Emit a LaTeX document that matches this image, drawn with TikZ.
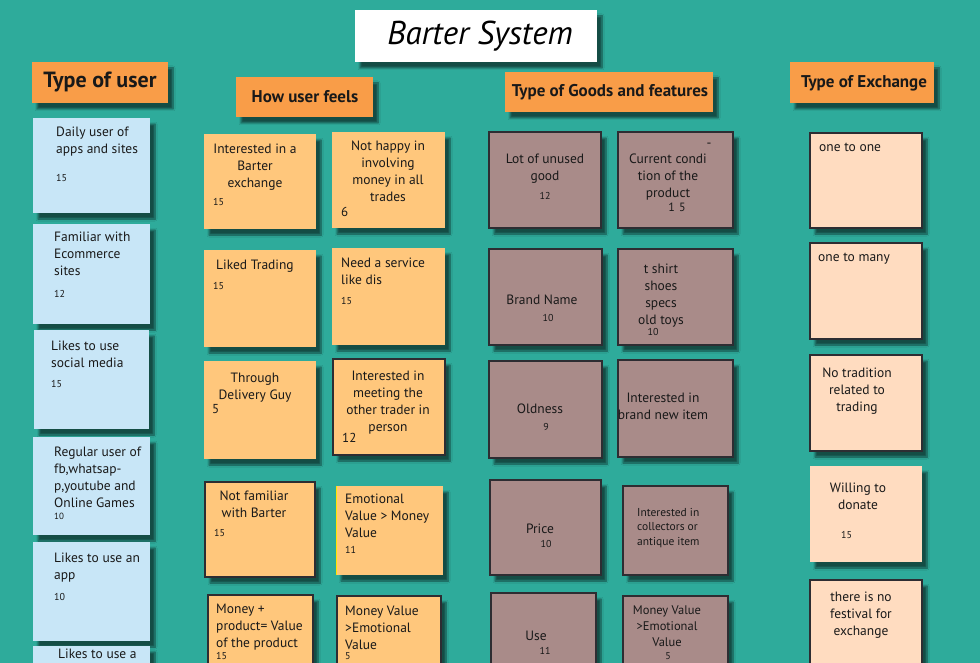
\documentclass[tikz,border=0pt]{standalone}
\usepackage{fontspec}
\setmainfont{PT Sans}
\usepackage{tikz}
\usetikzlibrary{shadows.blur}

\definecolor{board}{RGB}{46,171,155}
\definecolor{headorange}{RGB}{249,157,72}
\definecolor{userblue}{RGB}{200,230,247}
\definecolor{feelorange}{RGB}{255,199,124}
\definecolor{goodsbrown}{RGB}{169,139,137}
\definecolor{exchpeach}{RGB}{255,220,192}
\definecolor{edge}{RGB}{45,45,50}

\tikzset{
  note/.style={blur shadow={shadow xshift=5pt,shadow yshift=-6pt,shadow blur steps=8,shadow opacity=55}},
  head/.style={note,fill=headorange},
  usernote/.style={note,fill=userblue},
  feelnote/.style={note,fill=feelorange},
  goodsnote/.style={note,fill=goodsbrown,draw=edge,line width=1.2pt},
  exchnote/.style={note,fill=exchpeach},
  lined/.style={draw=edge,line width=1.2pt},
  txt/.style={inner sep=0pt,text=black!90,font=\fontsize{13.5}{16.8}\selectfont},
  ltxt/.style={txt,align=left,anchor=north west,yshift=-3pt},
  ctxt/.style={txt,align=center,anchor=north,yshift=-3pt},
  num/.style={inner sep=0pt,text=black!90,font=\fontsize{10}{12}\selectfont,anchor=west},
  bignum/.style={num,font=\fontsize{13}{15}\selectfont},
  headtxt/.style={inner sep=0pt,text=black!90,font=\bfseries\fontsize{17}{20}\selectfont}
}

\begin{document}
\begin{tikzpicture}[x=1pt,y=-1pt]
\useasboundingbox (0,0) rectangle (980,663);
\fill[board] (0,0) rectangle (980,663);

% title and column heads
\fill[note,fill=white] (355,10) rectangle (597,62);
\node[inner sep=0pt,font=\itshape\fontsize{33}{36}\selectfont] (title) at (480,36) {Barter System};
\fill[head] (32,62) rectangle (168,103);
\node[headtxt,font=\bfseries\fontsize{22}{24}\selectfont] (h1) at (100,82) {Type of user};
\fill[head] (236,77) rectangle (373,117);
\node[headtxt] (h2) at (305,97) {How user feels};
\fill[head] (505,72) rectangle (713,112);
\node[headtxt] (h3) at (610,92) {Type of Goods and features};
\fill[head] (790,62) rectangle (934,103);
\node[headtxt] (h4) at (864,83) {Type of Exchange};

% type of user
\fill[usernote] (33,118) rectangle (150,213);
\node[ltxt] (u1) at (56,124) {Daily user of\\apps and sites};
\node[num] (u1n) at (56,178) {15};
\fill[usernote] (33,224) rectangle (150,324);
\node[ltxt] (u2) at (54,229) {Familiar with\\Ecommerce\\sites};
\node[num] (u2n) at (54,294) {12};
\fill[usernote] (34,330) rectangle (149,429);
\node[ltxt] (u3) at (51,338) {Likes to use\\social media};
\node[num] (u3n) at (51,384) {15};
\fill[usernote] (33,437) rectangle (150,535);
\node[ltxt] (u4) at (54,444) {Regular user of\\fb,whatsap-\\p,youtube and\\Online Games};
\node[num,font=\fontsize{9}{11}\selectfont] (u4n) at (54,516) {10};
\fill[usernote] (33,542) rectangle (150,641);
\node[ltxt] (u5) at (54,550) {Likes to use an\\app};
\node[num] (u5n) at (54,597) {10};
\fill[usernote] (33,646) rectangle (150,700);
\node[txt,anchor=west] (u6) at (58,654) {Likes to use a};

% how user feels
\fill[feelnote] (204,134) rectangle (316,229);
\node[ctxt] (f1) at (255,141) {Interested in a\\Barter\\exchange};
\node[num] (f1n) at (213,202) {15};
\fill[feelnote] (204,250) rectangle (316,347);
\node[ltxt] (f2) at (216,257) {Liked Trading};
\node[num] (f2n) at (213,286) {15};
\fill[feelnote] (204,361) rectangle (316,459);
\node[ctxt] (f3) at (255,370) {Through\\Delivery Guy};
\node[bignum] (f3n) at (212,409) {5};
\fill[feelnote,lined] (205,482) rectangle (315,577);
\node[ctxt] (f4) at (254,488) {Not familiar\\with Barter};
\node[num] (f4n) at (214,533) {15};
\fill[feelnote,lined] (208,595) rectangle (313,700);
\node[ltxt] (f5) at (216,601) {Money +\\product= Value\\of the product};
\node[num] (f5n) at (216,656) {15};
\fill[feelnote] (332,132) rectangle (445,228);
\node[ctxt] (f6) at (388,138) {Not happy in\\involving\\money in all\\trades};
\node[bignum] (f6n) at (341,212) {6};
\fill[feelnote] (332,248) rectangle (445,345);
\node[ltxt] (f7) at (341,255) {Need a service\\like dis};
\node[num] (f7n) at (341,301) {15};
\fill[feelnote,lined] (333,359) rectangle (445,455);
\node[ctxt] (f8) at (388,368) {Interested in\\meeting the\\other trader in\\person};
\node[bignum] (f8n) at (342,438) {12};
\fill[feelnote] (336,486) rectangle (443,575);
\draw[yellow!90!orange,line width=1pt] (336.5,486) -- (336.5,575);
\node[ltxt] (f9) at (345,491) {Emotional\\Value > Money\\Value};
\node[num] (f9n) at (345,550) {11};
\fill[feelnote,lined] (337,596) rectangle (441,700);
\node[ltxt] (f10) at (345,603) {Money Value\\>Emotional\\Value};
\node[num] (f10n) at (345,656) {5};

% type of goods and features
\fill[goodsnote] (489,132) rectangle (601,228);
\node[ctxt] (g1) at (545,151) {Lot of unused\\good};
\node[num,anchor=center] (g1n) at (545,196) {12};
\fill[goodsnote] (489,249) rectangle (602,345);
\node[txt] (g2) at (542,300) {Brand Name};
\node[num,anchor=center] (g2n) at (548,318) {10};
\fill[goodsnote] (489,361) rectangle (602,458);
\node[txt] (g3) at (540,409) {Oldness};
\node[num,anchor=center] (g3n) at (546,427) {9};
\fill[goodsnote] (490,480) rectangle (601,575);
\node[txt] (g4) at (540,529) {Price};
\node[num,anchor=center] (g4n) at (546,544) {10};
\fill[goodsnote] (491,593) rectangle (596,700);
\node[txt] (g5) at (536,636) {Use};
\node[num,anchor=center] (g5n) at (545,651) {11};
\fill[goodsnote] (618,132) rectangle (733,228);
\node[txt] (g6d) at (709,145) {-};
\node[ctxt] (g6) at (668,151) {Current condi\\tion of the\\product};
\node[num,anchor=center,font=\fontsize{12}{14}\selectfont] (g6n) at (677,207) {1\,\,5};
\fill[goodsnote] (618,249) rectangle (733,345);
\node[ctxt] (g7) at (661,261) {t shirt\\shoes\\specs\\old toys};
\node[num,anchor=center] (g7n) at (653,332) {10};
\fill[goodsnote] (618,360) rectangle (733,457);
\node[ctxt] (g8) at (663,390) {Interested in\\brand new item};
\fill[goodsnote] (623,486) rectangle (728,575);
\node[ltxt,font=\fontsize{11.5}{14.5}\selectfont] (g9) at (637,505) {Interested in\\collectors or\\antique item};
\fill[goodsnote] (623,596) rectangle (728,700);
\node[ctxt,font=\fontsize{12.5}{16}\selectfont] (g10) at (667,603) {Money Value\\>Emotional\\Value};
\node[num,anchor=center] (g10n) at (668,656) {5};

% type of exchange
\fill[exchnote,lined] (810,133) rectangle (922,228);
\node[ltxt] (e1) at (819,140) {one to one};
\fill[exchnote,lined] (810,243) rectangle (922,339);
\node[ltxt] (e2) at (818,250) {one to many};
\fill[exchnote,lined] (810,355) rectangle (922,451);
\node[ctxt] (e3) at (857,365) {No tradition\\related to\\trading};
\fill[exchnote] (810,466) rectangle (922,562);
\node[ctxt] (e4) at (858,480) {Willing to\\donate};
\node[num] (e4n) at (841,535) {15};
\fill[exchnote,lined] (810,580) rectangle (922,700);
\node[ctxt] (e5) at (861,589) {there is no\\festival for\\exchange};
\end{tikzpicture}
\end{document}
